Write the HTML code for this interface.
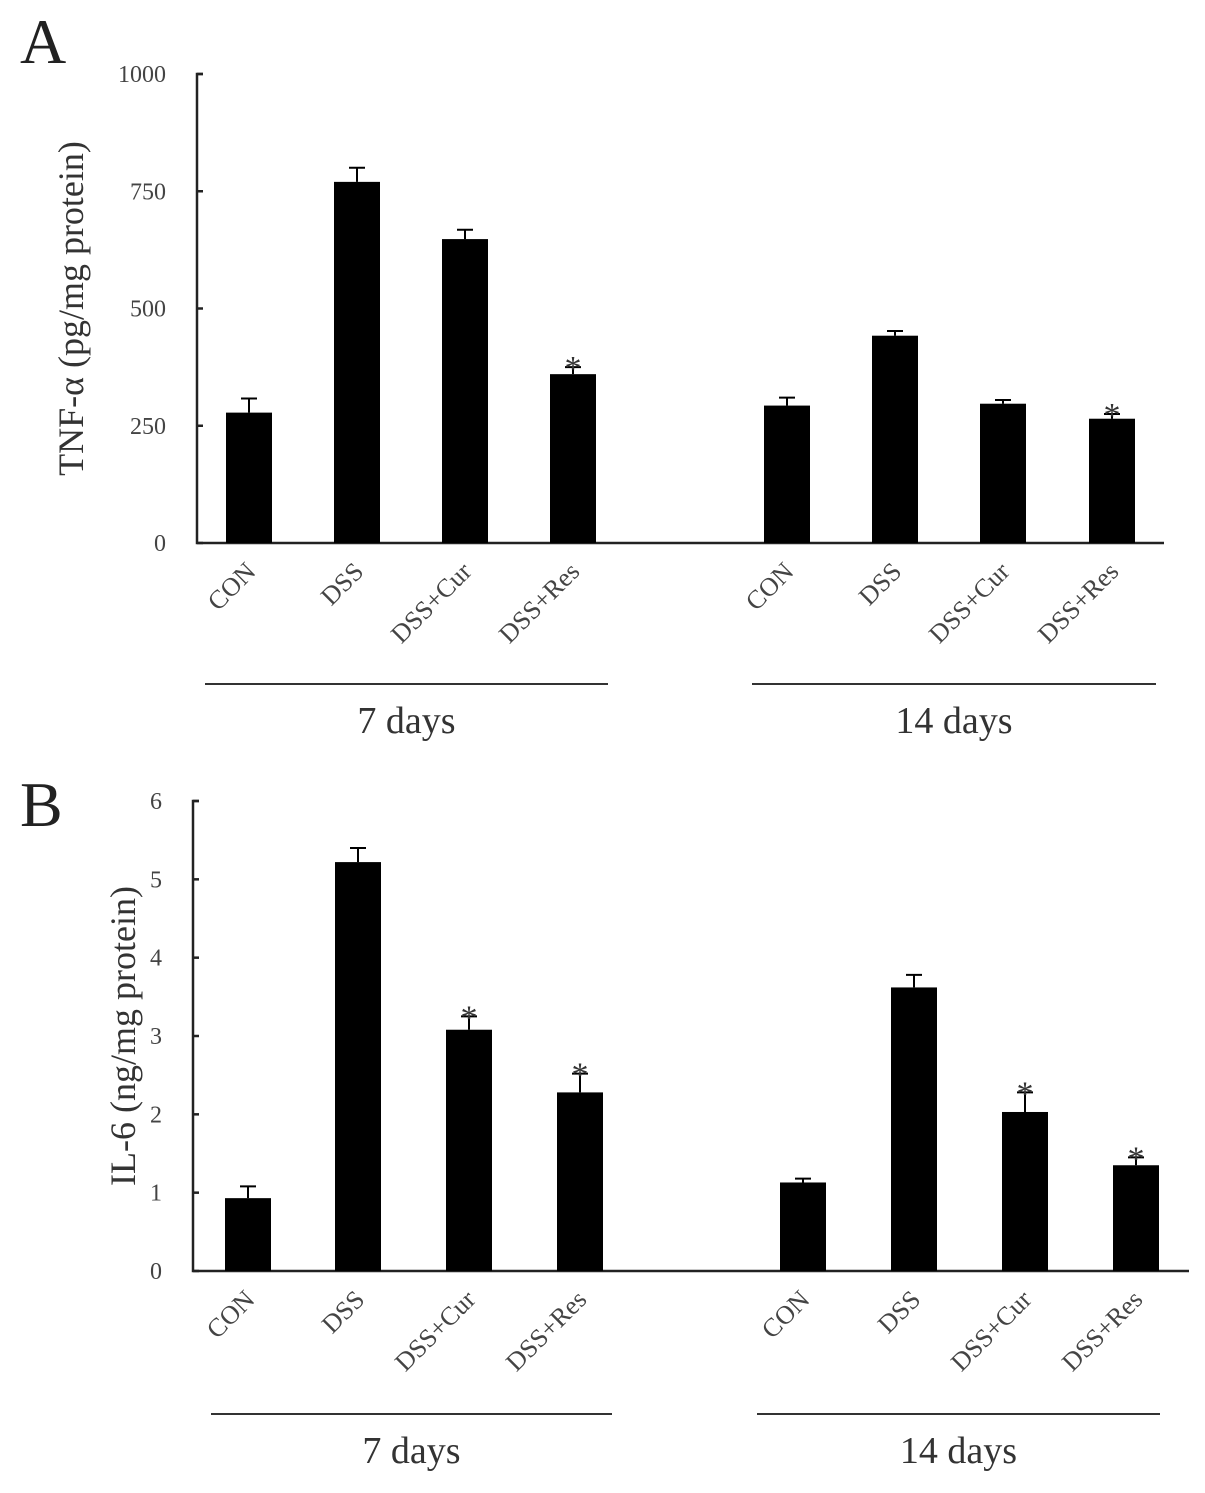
<!DOCTYPE html>
<html><head><meta charset="utf-8"><style>
html,body{margin:0;padding:0;background:#fff}
svg{display:block;font-family:"Liberation Serif",serif}
</style></head><body>
<svg id="chart" width="1205" height="1493" viewBox="0 0 1205 1493" xmlns="http://www.w3.org/2000/svg"></svg>
<script>
const categories = ["CON","DSS","DSS+Cur","DSS+Res"];
const groups = ["7 days","14 days"];
const tnfValues = [278,770,648,360, 293,442,297,265];
const tnfErrors = [30,30,20,15, 17,10,8,10];
const tnfStars = [false,false,false,true, false,false,false,true];
const tnfTicks = [0,250,500,750,1000];
const il6Values = [0.93,5.22,3.08,2.28, 1.13,3.62,2.03,1.35];
const il6Errors = [0.15,0.18,0.17,0.24, 0.05,0.16,0.25,0.1];
const il6Stars = [false,false,true,true, false,false,true,true];
const il6Ticks = [0,1,2,3,4,5,6];

const NS="http://www.w3.org/2000/svg";
const svg=document.getElementById('chart');
function mk(tag,attrs,parent){const e=document.createElementNS(NS,tag);for(const k in attrs)e.setAttribute(k,attrs[k]);(parent||svg).appendChild(e);return e;}

function panel(p){
  const g=mk('g',{});
  
  
  const y=v=>p.y0-(v/p.max)*(p.y0-p.y1);
  const lbl=mk('text',{x:p.letterX,y:p.letterY,'font-size':64,fill:'#222'},g);
  lbl.textContent=p.letter;
  
  
  const ax=mk('path',{d:`M${p.ax+6} ${p.y1}H${p.ax}V${p.y0}H${p.axEnd}`,stroke:'#222','stroke-width':2.5,fill:'none'},g);
  
  
  p.ticks.forEach(t=>{
    const tk=mk('line',{x1:p.ax,x2:p.ax+6,y1:y(t),y2:y(t),stroke:'#222','stroke-width':2.5},g);
    
    
    const tt=mk('text',{x:p.ax-31,y:y(t)+8,'font-size':24,'text-anchor':'end',fill:'#444'},g);
    tt.textContent=t;
    
    
  });
  const yt=mk('text',{transform:`translate(${p.titleX},${(p.y0+p.y1)/2}) rotate(-90)`,'font-size':36,'text-anchor':'middle',fill:'#333'},g);
  yt.textContent=p.title;
  
  
  p.values.forEach((v,i)=>{
    const cx=p.centers[i];
    const b=mk('rect',{x:cx-23,y:y(v),width:46,height:p.y0-y(v),fill:'#000'},g);
    
    
    const te=y(v+p.errors[i]);
    const eb=mk('path',{d:`M${cx} ${y(v)}V${te}M${cx-8} ${te}H${cx+8}`,stroke:'#000','stroke-width':2,fill:'none'},g);
    
    
    if(p.stars[i]){
      const s=mk('text',{x:cx,y:te+12,'font-size':34,'text-anchor':'middle',fill:'#333'},g);
      s.textContent='*';
      
      
    }
    const c=mk('text',{transform:`translate(${cx+8},${p.y0+30}) rotate(-45)`,'font-size':26,'text-anchor':'end',fill:'#444'},g);
    c.textContent=categories[i%4];
    
    
  });
  groups.forEach((gn,k)=>{
    const [a,bb]=p.groupLines[k];
    const l=mk('line',{x1:a,x2:bb,y1:p.lineY,y2:p.lineY,stroke:'#333','stroke-width':2},g);
    
    
    const t=mk('text',{x:(a+bb)/2,y:p.lineY+49,'font-size':38,'text-anchor':'middle',fill:'#333'},g);
    t.textContent=gn;
    
    
  });
}
panel({name:'panel-a-tnf',letter:'A',letterX:20,letterY:63,ax:197,axEnd:1164,y0:543,y1:74,max:1000,ticks:tnfTicks,
  values:tnfValues,errors:tnfErrors,stars:tnfStars,title:'TNF-α (pg/mg protein)',titleX:83,
  centers:[249,357,465,573,787,895,1003,1112],lineY:684,groupLines:[[205,608],[752,1156]]});
panel({name:'panel-b-il6',letter:'B',letterX:20,letterY:826,ax:193,axEnd:1189,y0:1271,y1:801,max:6,ticks:il6Ticks,
  values:il6Values,errors:il6Errors,stars:il6Stars,title:'IL-6 (ng/mg protein)',titleX:135,
  centers:[248,358,469,580,803,914,1025,1136],lineY:1414,groupLines:[[211,612],[757,1160]]});
</script>
</body></html>
